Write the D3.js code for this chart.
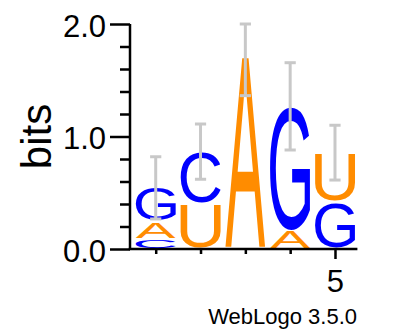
<!DOCTYPE html>
<html lang="en">
<head>
<meta charset="UTF-8">
<title>WebLogo</title>
<script src="https://cdn.jsdelivr.net/npm/d3@7"></script>
<style>
    body { margin: 0; background: #fff; }
    svg { display: block; }
    .axis text { font-family: "Liberation Sans", Arial, sans-serif; fill: #000; }
</style>
</head>
<body>
<script>
    // sequence logo data (bits per base, per position)
    var positions = [1, 2, 3, 4, 5]
    var bases = ["A", "C", "G", "U"]
    var bitsA = [0.155, 0, 1.709, 0.16, 0]
    var bitsC = [0.09, 0.464, 0, 0, 0]
    var bitsG = [0.31, 0, 0, 1.102, 0.42]
    var bitsU = [0, 0.40, 0, 0, 0.436]
    var errLow = [0.267, 0.62, 1.363, 0.88, 0.613]
    var errHigh = [0.82, 1.111, 2.0, 1.656, 1.10]
    var yMajor = [0, 1, 2]
    var yMinor = [0.2, 0.4, 0.6, 0.8, 1.2, 1.4, 1.6, 1.8]
    var xLabelled = [5]

    var colors = { A: "#ff8c00", U: "#ff8c00", G: "#0000ff", C: "#0000ff" }
    var font = "'Liberation Sans', Arial, sans-serif"

    var width = 408, height = 333

    var svg = d3.select("body").append("svg")
        .attr("width", width)
        .attr("height", height)

    var x = d3.scaleLinear().domain([0.5, 5.5]).range([133.3, 357.4])
    var y = d3.scaleLinear().domain([0, 2]).range([249, 24])

    // ink bounds of glyphs, measured on a canvas
    var ctx = document.createElement("canvas").getContext("2d")
    ctx.font = "200px " + font
    var ink = {}
    bases.forEach(function(b) {
        var m = ctx.measureText(b)
        ink[b] = {
            left: -m.actualBoundingBoxLeft,
            right: m.actualBoundingBoxRight,
            top: -m.actualBoundingBoxAscent,
            bottom: m.actualBoundingBoxDescent
        }
    })

    var table = { A: bitsA, C: bitsC, G: bitsG, U: bitsU }
    var glyphs = []
    positions.forEach(function(p, i) {
        var col = bases.map(function(b) { return { base: b, h: table[b][i] } })
            .filter(function(d) { return d.h > 0 })
            .sort(function(a, b) { return a.h - b.h })
        var acc = 0
        col.forEach(function(d) {
            glyphs.push({ pos: p, base: d.base, y0: acc, y1: acc + d.h })
            acc += d.h
        })
    })

    var letterW = 40
    svg.append("g").selectAll("text")
        .data(glyphs)
        .enter()
        .append("text")
        .attr("font-family", font)
        .attr("font-size", 200)
        .attr("fill", function(d) { return colors[d.base] })
        .attr("transform", function(d) {
            var g = ink[d.base]
            var x0 = x(d.pos) - letterW / 2
            var top = y(d.y1) + 1, bot = y(d.y0) - 1
            var sx = letterW / (g.right - g.left)
            var sy = (bot - top) / (g.bottom - g.top)
            return "translate(" + (x0 - g.left * sx) + "," + (top - g.top * sy) + ") scale(" + sx + "," + sy + ")"
        })
        .text(function(d) { return d.base })

    // error bars
    var eb = svg.append("g").attr("stroke", "#c8c8c8").attr("stroke-width", 3)
    positions.forEach(function(p, i) {
        eb.append("line").attr("x1", x(p)).attr("x2", x(p)).attr("y1", y(errLow[i])).attr("y2", y(errHigh[i]))
        eb.append("line").attr("x1", x(p) - 5.6).attr("x2", x(p) + 5.6).attr("y1", y(errLow[i])).attr("y2", y(errLow[i]))
        eb.append("line").attr("x1", x(p) - 5.6).attr("x2", x(p) + 5.6).attr("y1", y(errHigh[i])).attr("y2", y(errHigh[i]))
    })

    // y axis
    var yAxisMinor = d3.axisLeft(y).tickValues(yMinor).tickSize(10).tickSizeOuter(0).tickFormat("")
    var yAxisMajor = d3.axisLeft(y).tickValues(yMajor).tickSize(20).tickSizeOuter(0).tickPadding(4)
        .tickFormat(d3.format(".1f"))
    var gy = svg.append("g").attr("class", "axis").attr("transform", "translate(130,0)")
    gy.call(yAxisMinor)
    gy.append("g").call(yAxisMajor)
    gy.selectAll("path").remove()
    gy.selectAll("line").attr("stroke-width", 2.5)
    gy.selectAll("text").attr("font-size", 31).attr("dy", "0.39em")
    gy.append("line").attr("x1", 0).attr("x2", 0).attr("y1", y(2)).attr("y2", y(0))
        .attr("stroke", "#000").attr("stroke-width", 2.5)

    // x axis
    var xMinor = positions.filter(function(p) { return xLabelled.indexOf(p) < 0 })
    var xAxisMinor = d3.axisBottom(x).tickValues(xMinor).tickSize(5).tickSizeOuter(0).tickFormat("")
    var xAxisMajor = d3.axisBottom(x).tickValues(xLabelled).tickSize(10).tickSizeOuter(0).tickPadding(11)
        .tickFormat(d3.format("d"))
    var gx = svg.append("g").attr("class", "axis").attr("transform", "translate(0," + y(0) + ")")
    gx.call(xAxisMinor)
    gx.append("g").call(xAxisMajor)
    gx.selectAll("path").remove()
    gx.selectAll("line").attr("stroke-width", 2.5)
    gx.selectAll("text").attr("font-size", 31)
    gx.append("line").attr("x1", 128.75).attr("x2", x(5.5)).attr("y1", 0).attr("y2", 0)
        .attr("stroke", "#000").attr("stroke-width", 2.5)

    // axis title
    svg.append("text")
        .attr("transform", "translate(51," + y(1) + ") rotate(-90)")
        .attr("text-anchor", "middle")
        .attr("font-family", font)
        .attr("font-size", 42)
        .text("bits")

    svg.append("text")
        .attr("x", 357)
        .attr("y", 324)
        .attr("text-anchor", "end")
        .attr("font-family", font)
        .attr("font-size", 22)
        .text("WebLogo 3.5.0")
</script>
</body>
</html>
